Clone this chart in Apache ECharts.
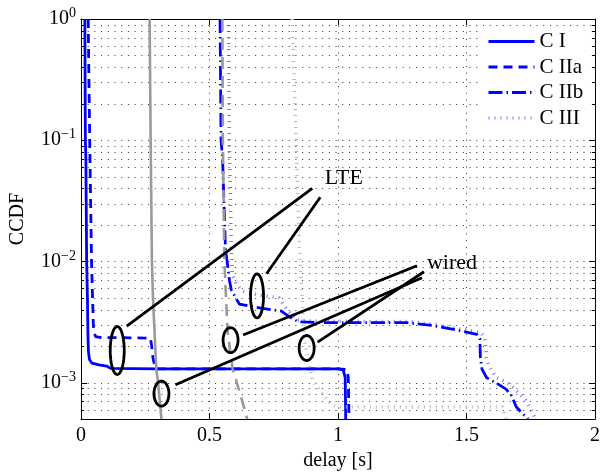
<!DOCTYPE html>
<html>
<head>
<meta charset="utf-8">
<script src="https://cdn.jsdelivr.net/npm/echarts@6/dist/echarts.min.js"></script>
<style>
  html, body { margin: 0; padding: 0; background: #fff; }
  #chart { width: 603px; height: 476px; }
</style>
</head>
<body>
<div id="chart"></div>
<script>
const FONT = '"Liberation Serif", "Times New Roman", serif'

// LTE curves (blue)
const c1X = [0.015, 0.017, 0.019, 0.022, 0.025, 0.027, 0.029, 0.033, 0.042, 0.07, 0.1, 0.115, 0.3, 0.6, 1.0, 1.02, 1.028, 1.03]
const c1Y = [1, 0.1, 0.07, 0.01, 0.005, 0.0025, 0.0018, 0.00155, 0.00145, 0.0014, 0.00137, 0.00131, 0.0013, 0.0013, 0.0013, 0.00128, 0.0011, 0.0005]

const c2aX = [0.028, 0.031, 0.035, 0.041, 0.045, 0.048, 0.05, 0.056, 0.08, 0.15, 0.27, 0.275, 0.28, 0.29, 0.5, 1.0, 1.035, 1.04, 1.043]
const c2aY = [1, 0.3, 0.07, 0.01, 0.005, 0.003, 0.0027, 0.0024, 0.00235, 0.00235, 0.00233, 0.002, 0.0016, 0.0013, 0.0013, 0.0013, 0.00128, 0.0011, 0.0005]

const c2bX = [0.541, 0.545, 0.551, 0.562, 0.578, 0.585, 0.616, 0.65, 0.694, 0.74, 0.778, 0.81, 0.845, 0.926, 1.1, 1.267, 1.372, 1.457, 1.54, 1.552, 1.554, 1.56, 1.578, 1.62, 1.655, 1.675, 1.694, 1.72, 1.74]
const c2bY = [1, 0.1, 0.07, 0.0129, 0.0069, 0.0058, 0.00445, 0.0043, 0.00414, 0.004, 0.0039, 0.0035, 0.00318, 0.00313, 0.00313, 0.00312, 0.00295, 0.00273, 0.0025, 0.0023, 0.0016, 0.0013, 0.0011, 0.00098, 0.00088, 0.00078, 0.00063, 0.00055, 0.0005]

const c3X = [0.574, 0.577, 0.58, 0.585, 0.589, 0.605, 0.628, 0.686, 0.771, 0.802, 0.837, 0.87, 1.1, 1.27, 1.38, 1.46, 1.555, 1.568, 1.573, 1.578, 1.585, 1.615, 1.66, 1.69, 1.73, 1.75, 1.77]
const c3Y = [1, 0.1, 0.05, 0.012, 0.0077, 0.0065, 0.0057, 0.0053, 0.005, 0.004, 0.0033, 0.00322, 0.0032, 0.0032, 0.00302, 0.0028, 0.0026, 0.0024, 0.0022, 0.0016, 0.0014, 0.0011, 0.001, 0.00088, 0.00072, 0.0006, 0.0005]

// wired curves (gray)
const w1X = [0.267, 0.271, 0.276, 0.28, 0.293, 0.30, 0.313]
const w1Y = [1, 0.1, 0.01, 0.005, 0.0013, 0.001, 0.0005]

const w2X = [0.55, 0.552, 0.558, 0.57, 0.59, 0.62, 0.647]
const w2Y = [1, 0.1, 0.01, 0.0027, 0.0013, 0.0008, 0.0005]

const w3X = [0.822, 0.837, 0.85, 0.87, 0.9, 0.94, 0.977, 1.0, 1.3, 1.64, 1.655]
const w3Y = [1, 0.1, 0.0129, 0.0022, 0.00106, 0.0008, 0.00065, 0.00063, 0.00063, 0.00063, 0.0005]

// axis ticks
const yMajor = [0.001, 0.01, 0.1]
const yDecades = [0.0001, 0.001, 0.01, 0.1]
const yMinorMult = [2, 3, 4, 5, 6, 7, 8, 9]

// annotations (data coords)
const ellX = [0.141, 0.685, 0.313, 0.582, 0.878]
const ellY = [0.00184, 0.00519, 0.000811, 0.00224, 0.00193]
const ellRx = [7, 6.5, 7.5, 7.5, 7.5]
const ellRy = [24, 22, 12.5, 12.5, 12.5]

const ptrFromX = [0.178, 0.722, 0.3675, 0.6306, 0.9207]
const ptrFromY = [0.00292, 0.00792, 0.000961, 0.00247, 0.00216]
const ptrToX = [0.900, 0.931, 1.327, 1.3075, 1.3346]
const ptrToY = [0.040, 0.0338, 0.00734, 0.0092, 0.00822]

const noteText = ['LTE', 'wired']
const noteX = [0.948, 1.346]
const noteY = [0.0483, 0.00974]

const zip = (xs, ys) => xs.map((x, i) => [x, ys[i]])

const gridRows = yMajor.map(v => [0, v, 1])
yDecades.forEach(d => {
  yMinorMult.forEach(m => {
    const v = m * d
    if (v > 0.00051 && v < 0.99) gridRows.push([0, v, 0])
  })
})

const chart = echarts.init(document.getElementById('chart'))

function renderGridRow(params, api) {
  const v = api.value(1)
  const t = api.value(2) === 1 ? 6 : 3
  const a = api.coord([0, v])
  const b = api.coord([2, v])
  const y = Math.round(a[1]) + 0.5
  return {
    type: 'group',
    children: [
      { type: 'line', shape: { x1: a[0], y1: y, x2: b[0], y2: y }, style: { stroke: '#333', lineWidth: 1, lineDash: [1, 5.7] } },
      { type: 'line', shape: { x1: a[0], y1: y, x2: a[0] + t, y2: y }, style: { stroke: '#000', lineWidth: 1 } },
      { type: 'line', shape: { x1: b[0] - t, y1: y, x2: b[0], y2: y }, style: { stroke: '#000', lineWidth: 1 } }
    ]
  }
}

function renderEllipse(params, api) {
  const c = api.coord([api.value(0), api.value(1)])
  const rx = api.value(2), ry = api.value(3)
  const pts = []
  for (let i = 0; i < 48; i++) {
    const a = i / 48 * Math.PI * 2
    pts.push([c[0] + rx * Math.cos(a), c[1] + ry * Math.sin(a)])
  }
  return { type: 'polygon', shape: { points: pts }, style: { fill: 'none', stroke: '#000', lineWidth: 2.8 } }
}

function renderPointer(params, api) {
  const p = api.coord([api.value(0), api.value(1)])
  const q = api.coord([api.value(2), api.value(3)])
  return { type: 'line', shape: { x1: p[0], y1: p[1], x2: q[0], y2: q[1] }, style: { stroke: '#000', lineWidth: 2.8 } }
}

function renderNote(params, api) {
  const p = api.coord([api.value(0), api.value(1)])
  return {
    type: 'text', x: p[0], y: p[1],
    style: { text: noteText[params.dataIndex], fontFamily: FONT, fontSize: 22, fill: '#000', align: 'left', verticalAlign: 'middle' }
  }
}

const lineSeries = (name, data, color, width, type, z) => ({
  type: 'line', name, data, symbol: 'none', color, z,
  lineStyle: { color, width, type },
  emphasis: { disabled: true }, silent: true, animation: false
})

const option = {
  animation: false,
  grid: { left: 80, right: 6, top: 19, bottom: 54 },
  legend: {
    data: ['C I', 'C IIa', 'C IIb', 'C III'],
    orient: 'vertical', left: 483, top: 27,
    itemWidth: 46, itemHeight: 14, itemGap: 4.5,
    backgroundColor: '#fff', padding: [4, 8, 4, 4],
    itemStyle: { opacity: 0 },
    lineStyle: { width: 3 },
    textStyle: { fontFamily: FONT, fontSize: 21, color: '#000' }
  },
  xAxis: [
    {
      type: 'value', min: 0, max: 2, interval: 0.5, position: 'bottom',
      axisLine: { onZero: false, lineStyle: { color: '#000', width: 1 } },
      axisTick: { inside: true, length: 6, lineStyle: { color: '#000' } },
      axisLabel: { color: '#000', fontFamily: FONT, fontSize: 20, margin: 7, formatter: v => String(v) },
      splitLine: { show: true, lineStyle: { color: '#333', width: 1, type: [1, 5.7] } },
      name: 'delay [s]', nameLocation: 'middle', nameGap: 30,
      nameTextStyle: { color: '#000', fontFamily: FONT, fontSize: 20 }
    },
    {
      type: 'value', min: 0, max: 2, interval: 0.5, position: 'top',
      axisLine: { onZero: false, lineStyle: { color: '#000', width: 1 } },
      axisTick: { inside: true, length: 6, lineStyle: { color: '#000' } },
      axisLabel: { show: false }, splitLine: { show: false }
    }
  ],
  yAxis: [
    {
      type: 'log', logBase: 10, min: 0.0005, max: 1,
      axisLine: { onZero: false, lineStyle: { color: '#000', width: 1 } },
      axisTick: { show: false }, splitLine: { show: false },
      axisLabel: {
        color: '#000', margin: 5,
        formatter: v => {
          const l = Math.log10(v), e = Math.round(l)
          if (Math.abs(l - e) > 1e-6) return ''
          return '{b|10}{s|' + (e < 0 ? '\u2212' + (-e) : e) + '}'
        },
        rich: {
          b: { fontFamily: FONT, fontSize: 20, color: '#000' },
          s: { fontFamily: FONT, fontSize: 14, color: '#000', padding: [0, 0, 11, 0] }
        }
      },
      name: 'CCDF', nameLocation: 'middle', nameGap: 53, nameRotate: 90,
      nameTextStyle: { color: '#000', fontFamily: FONT, fontSize: 20 }
    },
    {
      type: 'log', logBase: 10, min: 0.0005, max: 1, position: 'right',
      axisLine: { onZero: false, lineStyle: { color: '#000', width: 1 } },
      axisTick: { show: false }, axisLabel: { show: false }, splitLine: { show: false }
    }
  ],
  series: [
    { type: 'custom', name: 'grid', data: gridRows, renderItem: renderGridRow, silent: true, z: 1 },
    lineSeries('C I', zip(c1X, c1Y), '#0000ff', 2.8, 'solid', 2),
    lineSeries('C IIa', zip(c2aX, c2aY), '#0000ff', 2.8, [9, 6], 2),
    lineSeries('C IIb', zip(c2bX, c2bY), '#0000ff', 2.8, [14, 4, 1.5, 4], 2),
    lineSeries('C III', zip(c3X, c3Y), 'rgba(0,0,255,0.55)', 3.5, [1, 5], 2),
    lineSeries('wired I', zip(w1X, w1Y), '#9a9a9a', 2.6, 'solid', 3),
    lineSeries('wired IIa', zip(w2X, w2Y), '#9a9a9a', 2.6, [12, 7], 3),
    lineSeries('wired III', zip(w3X, w3Y), '#b8b8b8', 3.5, [1, 5], 3),
    { type: 'custom', name: 'ellipses', data: ellX.map((x, i) => [x, ellY[i], ellRx[i], ellRy[i]]), renderItem: renderEllipse, silent: true, z: 5 },
    { type: 'custom', name: 'pointers', data: ptrFromX.map((x, i) => [x, ptrFromY[i], ptrToX[i], ptrToY[i]]), renderItem: renderPointer, silent: true, z: 5 },
    { type: 'custom', name: 'notes', data: noteX.map((x, i) => [x, noteY[i]]), renderItem: renderNote, silent: true, z: 5 }
  ]
}

chart.setOption(option)
</script>
</body>
</html>
